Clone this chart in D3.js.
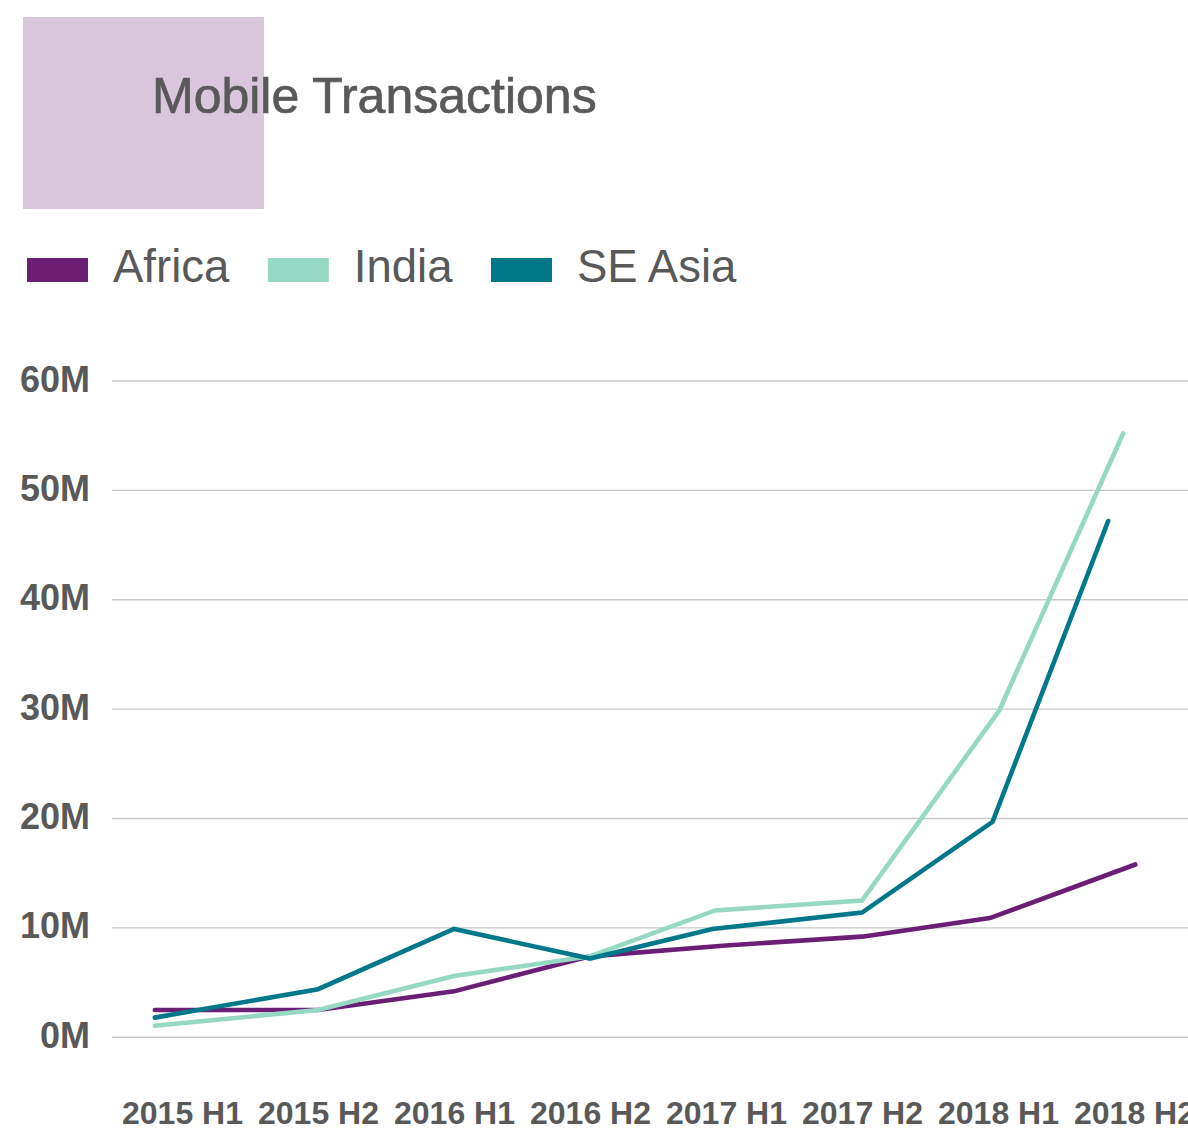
<!DOCTYPE html>
<html>
<head>
<meta charset="utf-8">
<title>Mobile Transactions</title>
<script src="https://cdn.jsdelivr.net/npm/d3@7"></script>
<style>
  html, body { margin: 0; padding: 0; background: #ffffff; }
  svg { display: block; font-family: "Liberation Sans", Arial, Helvetica, sans-serif; }
</style>
</head>
<body>
<svg id="chart" width="1188" height="1131"></svg>
<script>
// Half-year periods shown on the x axis
const periods = ["2015 H1", "2015 H2", "2016 H1", "2016 H2", "2017 H1", "2017 H2", "2018 H1", "2018 H2"];

// Y axis ticks, in millions
const yTicks = [0, 10, 20, 30, 40, 50, 60];

// Reporting position of each observation, measured in half-year periods from 2015 H1
const africaPeriod = [-0.2, 1, 2, 3, 4, 5, 5.94, 7.01];
const indiaPeriod  = [-0.2, 1, 2, 3, 3.92, 5, 6.01, 6.92];
const seAsiaPeriod = [-0.2, 1, 2, 3, 3.9, 5, 5.96, 6.81];

// Transactions, in millions
const africaValues = [2.5, 2.5, 4.2, 7.4, 8.4, 9.2, 10.9, 15.8];
const indiaValues  = [1.05, 2.5, 5.6, 7.4, 11.6, 12.5, 29.9, 55.2];
const seAsiaValues = [1.8, 4.4, 9.9, 7.2, 9.9, 11.4, 19.7, 47.2];

const seriesNames = ["Africa", "India", "SE Asia"];
const seriesColors = ["#6a1f75", "#95d9c5", "#00788a"];

const series = [
  { name: seriesNames[0], color: seriesColors[0], x: africaPeriod, y: africaValues },
  { name: seriesNames[1], color: seriesColors[1], x: indiaPeriod,  y: indiaValues },
  { name: seriesNames[2], color: seriesColors[2], x: seAsiaPeriod, y: seAsiaValues }
];

const svg = d3.select("#chart");
const textColor = "#595959";

// Title block
svg.append("rect")
  .attr("x", 23).attr("y", 17)
  .attr("width", 241).attr("height", 192)
  .attr("fill", "#d9c6dc");

svg.append("text")
  .attr("x", 152).attr("y", 113)
  .attr("font-size", 50)
  .attr("fill", textColor)
  .attr("stroke", textColor)
  .attr("stroke-width", 0.7)
  .text("Mobile Transactions");

// Legend
const legend = svg.append("g").attr("transform", "translate(27,257)");
let lx = 0;
series.forEach(s => {
  const g = legend.append("g").attr("transform", `translate(${lx},0)`);
  g.append("rect")
    .attr("x", 0).attr("y", 1)
    .attr("width", 61).attr("height", 24)
    .attr("fill", s.color);
  const t = g.append("text")
    .attr("x", 86).attr("y", 25)
    .attr("font-size", 45.5)
    .attr("fill", textColor)
    .text(s.name);
  lx += 86 + t.node().getComputedTextLength() + 38.5;
});

// Scales
const x = d3.scaleLinear().domain([0, 7]).range([182, 1134]);
const y = d3.scaleLinear().domain([0, 60]).range([1037.3, 381]);

// Horizontal gridlines
svg.append("g")
  .selectAll("line")
  .data(yTicks)
  .join("line")
  .attr("x1", 112).attr("x2", 1188)
  .attr("y1", d => y(d)).attr("y2", d => y(d))
  .attr("stroke", "#c8c8c8")
  .attr("stroke-width", 1.4);

// Y axis labels
const yAxis = d3.axisLeft(y).tickValues(yTicks).tickSize(0).tickPadding(0)
  .tickFormat(d => d + "M");
svg.append("g")
  .attr("transform", "translate(90,0)")
  .call(yAxis)
  .call(g => g.select(".domain").remove())
  .call(g => g.selectAll("text")
    .attr("font-family", "Liberation Sans, Arial, sans-serif")
    .attr("font-size", 36)
    .attr("font-weight", "bold")
    .attr("fill", textColor)
    .attr("dy", null)
    .attr("dominant-baseline", "alphabetic")
    .attr("y", 10));

// X axis labels
const xAxis = d3.axisBottom(x).tickValues(d3.range(periods.length)).tickSize(0).tickPadding(0)
  .tickFormat(i => periods[i]);
svg.append("g")
  .attr("transform", "translate(0,1124)")
  .call(xAxis)
  .call(g => g.select(".domain").remove())
  .call(g => g.selectAll("text")
    .attr("font-family", "Liberation Sans, Arial, sans-serif")
    .attr("font-size", 32)
    .attr("font-weight", "bold")
    .attr("fill", textColor)
    .attr("dy", null)
    .attr("y", 0));

// Lines
const line = d3.line()
  .x(d => x(d[0]))
  .y(d => y(d[1]));

svg.append("g")
  .selectAll("path")
  .data(series)
  .join("path")
  .attr("d", s => line(d3.zip(s.x, s.y)))
  .attr("fill", "none")
  .attr("stroke", s => s.color)
  .attr("stroke-width", 4.6)
  .attr("stroke-linecap", "round")
  .attr("stroke-linejoin", "miter");
</script>
</body>
</html>
